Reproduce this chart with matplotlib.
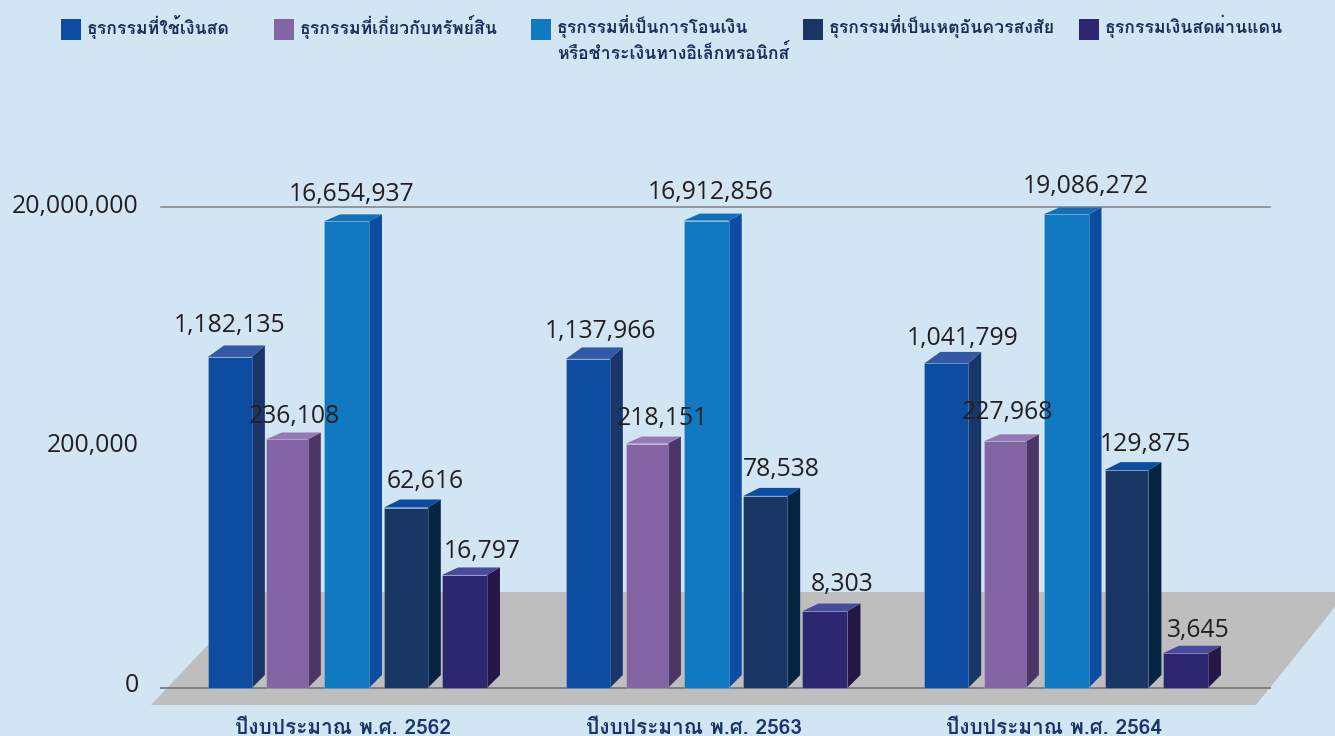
"""
Thai AMLO transaction counts per budget year, fake 3D bars on a log axis.
"""

import numpy as np
import matplotlib

matplotlib.use("Agg")
import matplotlib.pyplot as plt
from matplotlib import font_manager
from matplotlib.patches import Polygon, Rectangle
from matplotlib.transforms import Affine2D, IdentityTransform

W, H = 1335, 736
BG = "#d2e5f3"

years = ["ปีงบประมาณ พ.ศ. 2562", "ปีงบประมาณ พ.ศ. 2563", "ปีงบประมาณ พ.ศ. 2564"]
legend_names = [
    "ธุรกรรมที่ใช้เงินสด",
    "ธุรกรรมที่เกี่ยวกับทรัพย์สิน",
    "ธุรกรรมที่เป็นการโอนเงิน\nหรือชำระเงินทางอิเล็กทรอนิกส์",
    "ธุรกรรมที่เป็นเหตุอันควรสงสัย",
    "ธุรกรรมเงินสดผ่านแดน",
]
cash = [1182135, 1137966, 1041799]
asset = [236108, 218151, 227968]
transfer = [16654937, 16912856, 19086272]
suspicious = [62616, 78538, 129875]
border = [16797, 8303, 3645]
series = [cash, asset, transfer, suspicious, border]

ytick_vals = [1850, 200000, 20000000]
ytick_labels = ["0", "200,000", "20,000,000"]

# front, side, top
colors = [
    ("#0c4da2", "#1a3668", "#3259a6"),
    ("#8365a5", "#4c3567", "#9479b5"),
    ("#1179c1", "#0c4da2", "#1270b8"),
    ("#193665", "#052442", "#0c4da2"),
    ("#2d2772", "#251746", "#474b9f"),
]
# bar centres relative to the group, one row per series
bar_offset = [
    [-0.324, -0.329, -0.333],
    [-0.166, -0.165, -0.170],
    [0.0, 0.0, 0.0],
    [0.165, 0.164, 0.168],
    [0.328, 0.330, 0.332],
]
bar_width = [0.122, 0.117, 0.125, 0.122, 0.125]
top_depth = [11.5, 7, 7, 8, 7.5]
# label nudges in pixels, one row per series
label_dx = [[0, 13, 16], [8, 15, 3], [5, 4, 20], [19, 16, 19], [18, 17, 13]]
label_dy = [[31, 27, 25], [23, 25, 29], [27, 28, 28], [26, 26, 26], [23, 27, 23]]
year_pos = [-0.01, 0.965, 1.966]


def find_thai_font():
    for f in font_manager.fontManager.ttflist:
        try:
            cmap = font_manager.get_font(f.fname).get_charmap()
        except Exception:
            continue
        if 0x0E18 in cmap:
            return [f.name, "DejaVu Sans"]
    return ["DejaVu Sans"]


thai_family = find_thai_font()
num_family = ["Open Sans", "DejaVu Sans"]


def px(x, y):
    # picture pixels (origin top left) to display coordinates
    return (x, H - y)


fig = plt.figure(figsize=(W / 100, H / 100), dpi=100, facecolor=BG)
ax = fig.add_axes([161 / W, (H - 688) / H, (1270 - 161) / W, (688 - 212) / H])
ax.patch.set_visible(False)
ax.set_yscale("log")
ax.set_xlim(-0.5156, 2.567)
ax.set_ylim(ytick_vals[0], ytick_vals[-1])
for s in ax.spines.values():
    s.set_visible(False)
ax.minorticks_off()

# floor
floor = Polygon(
    [px(151, 705), px(1256, 705), px(1347, 592), px(258, 592)],
    closed=True, facecolor="#bebebe", edgecolor="none",
    transform=IdentityTransform(), clip_on=False, zorder=0.5,
)
ax.add_patch(floor)

# lines
top_line = ax.axhline(ytick_vals[-1], color="#808080", lw=1.1, zorder=1)
top_line.set_transform(top_line.get_transform() + Affine2D().translate(0, 5))
top_line.set_clip_on(False)
base_line = ax.axhline(ytick_vals[0], color="#808080", lw=1.4, zorder=1)
base_line.set_clip_on(False)

# bars
x_groups = np.arange(len(years))
for i, values in enumerate(series):
    front, side, top = colors[i]
    xs = x_groups + np.array(bar_offset[i])
    vals = np.array(values, dtype=float)
    depth = top_depth[i]
    bars = ax.bar(xs, vals - ytick_vals[0], bottom=ytick_vals[0], width=bar_width[i],
                  color=front, edgecolor=(1, 1, 1, 0.22), linewidth=0.6, zorder=3, clip_on=False)
    for j, bar in enumerate(bars):
        (x0, y0), (x1, y1) = ax.transData.transform(
            [(bar.get_x(), ytick_vals[0]), (bar.get_x() + bar.get_width(), vals[j])]
        )
        side_poly = Polygon(
            [(x1, y0), (x1 + 13, y0 + 13), (x1 + 13, y1 + depth), (x1, y1)],
            facecolor=side, edgecolor="none", transform=IdentityTransform(),
            clip_on=False, zorder=2.9,
        )
        top_poly = Polygon(
            [(x0, y1), (x0 + 16, y1 + depth), (x1 + 13, y1 + depth), (x1, y1)],
            facecolor=top, edgecolor="none", transform=IdentityTransform(),
            clip_on=False, zorder=2.9,
        )
        ax.add_patch(side_poly)
        ax.add_patch(top_poly)
        ax.annotate(
            f"{values[j]:,}", (xs[j], vals[j]),
            xytext=(label_dx[i][j], label_dy[i][j]), textcoords="offset pixels",
            ha="center", va="center", fontsize=17.8, family=num_family,
            color="#231f20", zorder=5, annotation_clip=False,
        )

# axes labels
ax.set_yticks(ytick_vals, ytick_labels, fontsize=17.8, family=num_family, color="#231f20")
ax.tick_params(axis="y", length=0, pad=16)
for lab, dy in zip(ax.get_yticklabels(), [5, 6, 9]):
    lab.set_transform(lab.get_transform() + Affine2D().translate(0, dy))
ax.set_xticks(year_pos, years, fontsize=15, family=thai_family, weight="bold",
              color="#1a3668")
ax.tick_params(axis="x", length=0, pad=22.5)

# legend
swatch_x = [61, 274, 531, 803, 1079]
for name, sx, c in zip(legend_names, swatch_x, colors):
    fig.add_artist(Rectangle((sx / W, (H - 40) / H), 20 / W, 21 / H, facecolor=c[0],
                             edgecolor="none", transform=fig.transFigure))
    fig.text((sx + 26) / W, (H - 15) / H, name, ha="left", va="top", fontsize=12.7,
             family=thai_family, weight="bold", color="#1b2f5b", linespacing=1.3)

fig.savefig("out.png", dpi=100)
